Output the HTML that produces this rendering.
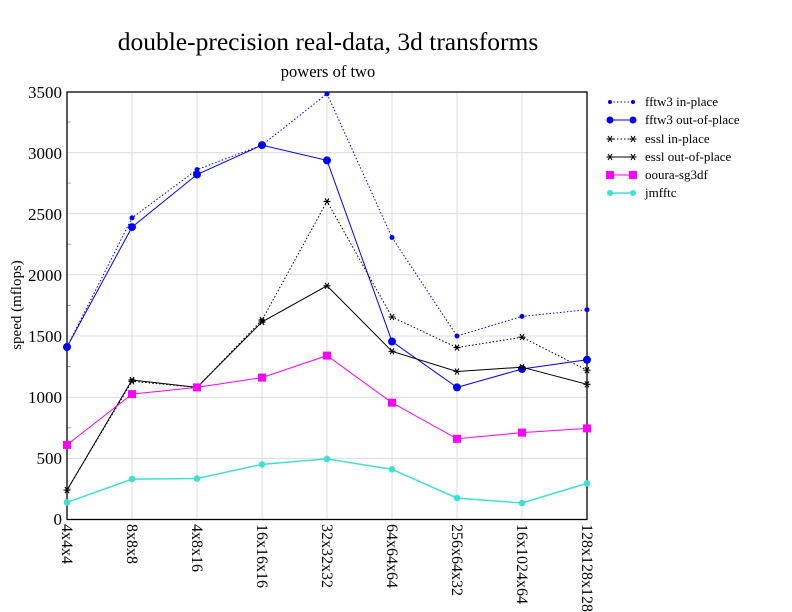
<!DOCTYPE html>
<html><head><meta charset="utf-8"><style>body{margin:0;background:#fff}svg{display:block}</style></head><body>
<svg width="792" height="612" xmlns="http://www.w3.org/2000/svg" font-family="Liberation Serif, serif">
<defs>
<g id="st" stroke="#000" stroke-width="1.1"><line x1="-3.5" y1="0" x2="3.5" y2="0"/><line x1="-2" y1="-3" x2="2" y2="3"/><line x1="-2" y1="3" x2="2" y2="-3"/></g>
</defs>
<rect width="792" height="612" fill="#fff"/>
<text x="328" y="50" font-size="25.5" text-anchor="middle">double-precision real-data, 3d transforms</text>
<text x="328" y="77" font-size="16.5" text-anchor="middle">powers of two</text>
<g stroke="#dcdcdc" stroke-width="1">
<line x1="67" y1="458.4" x2="587" y2="458.4"/><line x1="67" y1="397.2" x2="587" y2="397.2"/><line x1="67" y1="336.0" x2="587" y2="336.0"/><line x1="67" y1="274.8" x2="587" y2="274.8"/><line x1="67" y1="213.7" x2="587" y2="213.7"/><line x1="67" y1="152.6" x2="587" y2="152.6"/>
<line x1="132" y1="92" x2="132" y2="519.5"/><line x1="197" y1="92" x2="197" y2="519.5"/><line x1="262" y1="92" x2="262" y2="519.5"/><line x1="327" y1="92" x2="327" y2="519.5"/><line x1="392" y1="92" x2="392" y2="519.5"/><line x1="457" y1="92" x2="457" y2="519.5"/><line x1="522" y1="92" x2="522" y2="519.5"/>
</g>
<g stroke="#aaa" stroke-width="1">
<line x1="67" y1="489" x2="71" y2="489"/><line x1="67" y1="427.8" x2="71" y2="427.8"/><line x1="67" y1="366.6" x2="71" y2="366.6"/><line x1="67" y1="305.4" x2="71" y2="305.4"/><line x1="67" y1="244.2" x2="71" y2="244.2"/><line x1="67" y1="183.1" x2="71" y2="183.1"/><line x1="67" y1="122" x2="71" y2="122"/>
</g>
<rect x="67" y="92" width="520" height="427.5" fill="none" stroke="#000" stroke-width="1.3"/>
<g font-size="17" text-anchor="end">
<text x="62" y="525">0</text><text x="62" y="464">500</text><text x="62" y="403">1000</text><text x="62" y="342">1500</text><text x="62" y="281">2000</text><text x="62" y="220">2500</text><text x="62" y="159">3000</text><text x="62" y="98">3500</text>
</g>
<text transform="translate(21,305) rotate(-90)" font-size="15" text-anchor="middle">speed (mflops)</text>
<g font-size="16">
<text transform="translate(62,524) rotate(90)">4x4x4</text>
<text transform="translate(127,524) rotate(90)">8x8x8</text>
<text transform="translate(192,524) rotate(90)">4x8x16</text>
<text transform="translate(257,524) rotate(90)">16x16x16</text>
<text transform="translate(322,524) rotate(90)">32x32x32</text>
<text transform="translate(387,524) rotate(90)">64x64x64</text>
<text transform="translate(452,524) rotate(90)">256x64x32</text>
<text transform="translate(517,524) rotate(90)">16x1024x64</text>
<text transform="translate(582,524) rotate(90)">128x128x128</text>
</g>
<polyline fill="none" stroke="#0000ff" stroke-width="1" stroke-dasharray="1.5,2" points="67,347 132,217.9 197,169.6 262,145.1 327,93.8 392,237.5 457,336 522,316.4 587,309.7"/>
<g fill="#0000ff"><circle cx="67" cy="347" r="2.5"/><circle cx="132" cy="217.9" r="2.5"/><circle cx="197" cy="169.6" r="2.5"/><circle cx="262" cy="145.1" r="2.5"/><circle cx="327" cy="93.8" r="2.5"/><circle cx="392" cy="237.5" r="2.5"/><circle cx="457" cy="336" r="2.5"/><circle cx="522" cy="316.4" r="2.5"/><circle cx="587" cy="309.7" r="2.5"/></g>
<polyline fill="none" stroke="#0000ff" stroke-width="1" points="67,347 132,227.1 197,174.5 262,145.1 327,160.4 392,341.5 457,387.4 522,369 587,359.8"/>
<g fill="#0000ff"><circle cx="67" cy="347" r="4"/><circle cx="132" cy="227.1" r="4"/><circle cx="197" cy="174.5" r="4"/><circle cx="262" cy="145.1" r="4"/><circle cx="327" cy="160.4" r="4"/><circle cx="392" cy="341.5" r="4"/><circle cx="457" cy="387.4" r="4"/><circle cx="522" cy="369" r="4"/><circle cx="587" cy="359.8" r="4"/></g>
<polyline fill="none" stroke="#000" stroke-width="1" stroke-dasharray="1.5,2" points="67,490.1 132,381.3 197,387.4 262,320.1 327,201.4 392,317 457,347.6 522,337.2 587,370.2"/>
<use href="#st" x="67" y="490.1"/><use href="#st" x="132" y="381.3"/><use href="#st" x="197" y="387.4"/><use href="#st" x="262" y="320.1"/><use href="#st" x="327" y="201.4"/><use href="#st" x="392" y="317"/><use href="#st" x="457" y="347.6"/><use href="#st" x="522" y="337.2"/><use href="#st" x="587" y="370.2"/>
<polyline fill="none" stroke="#000" stroke-width="1" points="67,490.1 132,380 197,387.4 262,321.9 327,285.8 392,351.3 457,371.5 522,367.2 587,384.3"/>
<use href="#st" x="132" y="380"/><use href="#st" x="262" y="321.9"/><use href="#st" x="327" y="285.8"/><use href="#st" x="392" y="351.3"/><use href="#st" x="457" y="371.5"/><use href="#st" x="522" y="367.2"/><use href="#st" x="587" y="384.3"/>
<polyline fill="none" stroke="#ff00ff" stroke-width="1" points="67,444.9 132,394.1 197,387.4 262,377.6 327,355.6 392,402.7 457,438.8 522,432.6 587,428.4"/>
<g fill="#ff00ff"><rect x="63" y="440.9" width="8" height="8"/><rect x="128" y="390.1" width="8" height="8"/><rect x="193" y="383.4" width="8" height="8"/><rect x="258" y="373.6" width="8" height="8"/><rect x="323" y="351.6" width="8" height="8"/><rect x="388" y="398.7" width="8" height="8"/><rect x="453" y="434.8" width="8" height="8"/><rect x="518" y="428.6" width="8" height="8"/><rect x="583" y="424.4" width="8" height="8"/></g>
<polyline fill="none" stroke="#40e0d0" stroke-width="1.5" points="67,502.4 132,479.1 197,478.5 262,464.4 327,458.9 392,469.3 457,498.1 522,503 587,483.4"/>
<g fill="#40e0d0"><circle cx="67" cy="502.4" r="3.3"/><circle cx="132" cy="479.1" r="3.3"/><circle cx="197" cy="478.5" r="3.3"/><circle cx="262" cy="464.4" r="3.3"/><circle cx="327" cy="458.9" r="3.3"/><circle cx="392" cy="469.3" r="3.3"/><circle cx="457" cy="498.1" r="3.3"/><circle cx="522" cy="503" r="3.3"/><circle cx="587" cy="483.4" r="3.3"/></g>
<g font-size="13">
<line x1="610" y1="102" x2="633" y2="102" stroke="#0000ff" stroke-dasharray="1.5,2"/><circle cx="610" cy="102" r="2" fill="#0000ff"/><circle cx="633" cy="102" r="2" fill="#0000ff"/><text x="645" y="106">fftw3 in-place</text>
<line x1="610" y1="120" x2="633" y2="120" stroke="#0000ff"/><circle cx="610" cy="120" r="3.5" fill="#0000ff"/><circle cx="633" cy="120" r="3.5" fill="#0000ff"/><text x="645" y="124">fftw3 out-of-place</text>
<line x1="610" y1="139" x2="633" y2="139" stroke="#000" stroke-dasharray="1.5,2"/><use href="#st" x="610" y="139"/><use href="#st" x="633" y="139"/><text x="645" y="143">essl in-place</text>
<line x1="610" y1="157" x2="633" y2="157" stroke="#000"/><use href="#st" x="610" y="157"/><use href="#st" x="633" y="157"/><text x="645" y="161">essl out-of-place</text>
<line x1="610" y1="175" x2="633" y2="175" stroke="#ff00ff"/><rect x="606" y="171" width="8" height="8" fill="#ff00ff"/><rect x="629" y="171" width="8" height="8" fill="#ff00ff"/><text x="645" y="179">ooura-sg3df</text>
<line x1="610" y1="193" x2="633" y2="193" stroke="#40e0d0" stroke-width="1.5"/><circle cx="610" cy="193" r="3" fill="#40e0d0"/><circle cx="633" cy="193" r="3" fill="#40e0d0"/><text x="645" y="197">jmfftc</text>
</g>
</svg>
</body></html>
